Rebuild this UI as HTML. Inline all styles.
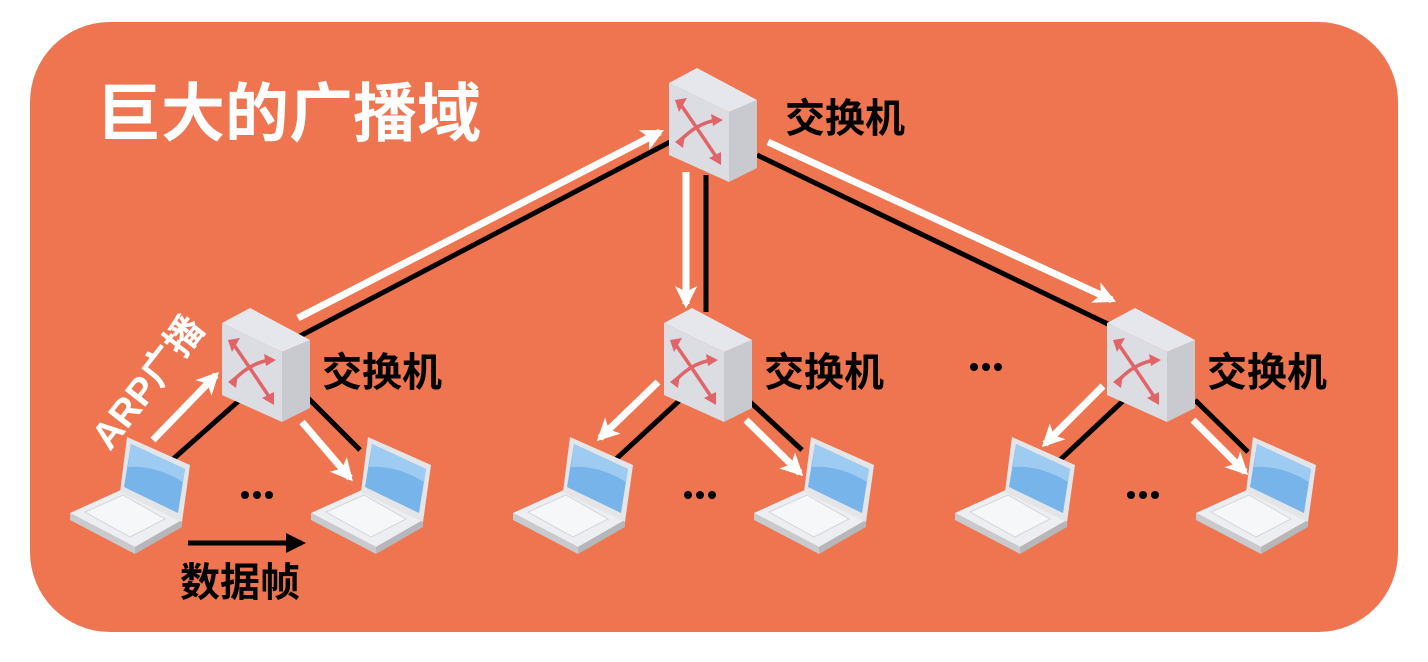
<!DOCTYPE html>
<html><head><meta charset="utf-8"><style>
html,body{margin:0;padding:0;background:#fff;}
svg{display:block}
text{font-family:"Liberation Sans","Noto Sans CJK SC",sans-serif;font-weight:bold}
</style></head><body>
<svg width="1428" height="662" viewBox="0 0 1428 662" xmlns="http://www.w3.org/2000/svg">
<defs>
<marker id="ah" viewBox="0 0 10 10" refX="8" refY="5" markerWidth="3.2" markerHeight="3.2" orient="auto"><path d="M0,0 L10,5 L0,10 L2.5,5 Z" fill="#fff"/></marker>
<marker id="bh" viewBox="0 0 10 10" refX="8" refY="5" markerWidth="4" markerHeight="4" orient="auto"><path d="M0,0 L10,5 L0,10 Z" fill="#000"/></marker>
<g id="sw">
<polygon points="0,15 28,0 88,32 60,44" fill="#e6e7ec"/>
<polygon points="0,15 60,44 60,114 0,87" fill="#dcdde2"/>
<polygon points="60,44 88,32 88,100 60,114" fill="#c9cacf"/>
<g stroke="#e06468" stroke-width="3.5" fill="none">
<path d="M12,37 Q28,60 48,90"/><path d="M12,72 Q28,55 48,52"/>
</g>
<g fill="#e06468">
<polygon points="6,32 18,30 10,44"/><polygon points="52,84 52,97 40,90"/>
<polygon points="6,74 16,66 14,80"/><polygon points="54,52 42,46 44,58"/>
</g>
</g>
<g id="lp">
<polygon points="0,76 53,52 112,83 65,110" fill="#eceef1"/>
<polygon points="0,76 65,110 65,117 0,83" fill="#c8cacd"/>
<polygon points="65,110 112,83 112,90 65,117" fill="#b5b7ba"/>
<polygon points="15,75 53,58 95,82 60,100" fill="#f6f7f8" stroke="#d4d6d9" stroke-width="1"/>
<polygon points="57,0 120,28 112,85 50,55" fill="#e3e5e8"/>
<polygon points="61,7 115,32 108,76 54,50" fill="#76b4ea"/>
<path d="M61,7 L115,32 L113,45 Q85,28 58,30 Z" fill="#9ecbf2"/>
</g>
</defs>
<rect x="30" y="22" width="1368" height="610" rx="80" fill="#ee7550"/>
<text x="97" y="136" font-size="64" fill="#fff">巨大的广播域</text>

<!-- black links -->
<g stroke="#000" stroke-width="5">
<line x1="670" y1="142" x2="300" y2="336"/>
<line x1="706" y1="175" x2="706" y2="312"/>
<line x1="757" y1="155" x2="1112" y2="326"/>
<line x1="242" y1="398" x2="172" y2="460"/>
<line x1="308" y1="398" x2="360" y2="450"/>
<line x1="680" y1="400" x2="615" y2="460"/>
<line x1="748" y1="400" x2="802" y2="450"/>
<line x1="1124" y1="400" x2="1060" y2="460"/>
<line x1="1195" y1="400" x2="1248" y2="452"/>
</g>
<!-- white arrows -->
<g stroke="#fff" stroke-width="7" marker-end="url(#ah)">
<line x1="298" y1="318" x2="660" y2="132"/>
<line x1="686" y1="172" x2="686" y2="304"/>
<line x1="768" y1="142" x2="1112" y2="300"/>
<line x1="153" y1="440" x2="216" y2="375"/>
<line x1="302" y1="422" x2="350" y2="478"/>
<line x1="658" y1="382" x2="600" y2="438"/>
<line x1="746" y1="420" x2="800" y2="473"/>
<line x1="1103" y1="386" x2="1045" y2="444"/>
<line x1="1193" y1="420" x2="1245" y2="472"/>
</g>

<use href="#sw" x="669" y="68"/>
<use href="#sw" x="222" y="308"/>
<use href="#sw" x="664" y="308"/>
<use href="#sw" x="1107" y="308"/>

<use href="#lp" x="70" y="437"/>
<use href="#lp" x="311" y="437"/>
<use href="#lp" x="513" y="437"/>
<use href="#lp" x="754" y="437"/>
<use href="#lp" x="955" y="437"/>
<use href="#lp" x="1196" y="437"/>

<g font-size="40" fill="#000">
<text x="785" y="132">交换机</text>
<text x="322" y="386">交换机</text>
<text x="764" y="386">交换机</text>
<text x="1207" y="386">交换机</text>
<text x="180" y="596">数据帧</text>
</g>
<text transform="translate(110,452) rotate(-52)" font-size="38" fill="#fff">ARP广播</text>
<line x1="188" y1="543" x2="302" y2="543" stroke="#000" stroke-width="5" marker-end="url(#bh)"/>
<g fill="#000">
<circle cx="245" cy="495" r="4"/><circle cx="257" cy="495" r="4"/><circle cx="269" cy="495" r="4"/>
<circle cx="688" cy="495" r="4"/><circle cx="700" cy="495" r="4"/><circle cx="712" cy="495" r="4"/>
<circle cx="1131" cy="495" r="4"/><circle cx="1143" cy="495" r="4"/><circle cx="1155" cy="495" r="4"/>
<circle cx="974" cy="367" r="4"/><circle cx="986" cy="367" r="4"/><circle cx="998" cy="367" r="4"/>
</g>
</svg>
</body></html>
